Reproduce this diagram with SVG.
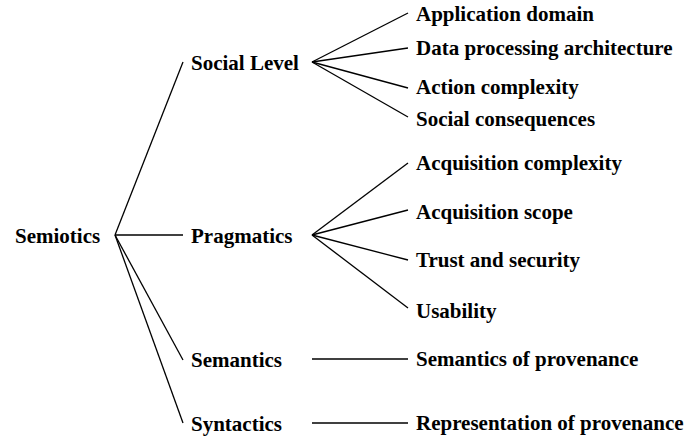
<svg xmlns="http://www.w3.org/2000/svg" width="692" height="436" viewBox="0 0 692 436">
<style>
text{font-family:"Liberation Serif","Times New Roman",serif;font-weight:bold;font-size:21px;fill:#000}
.c line{stroke:#000;stroke-width:1.3}
</style>
<rect width="692" height="436" fill="#fff"/>
<g id="connectors" class="c">
<line x1="115" y1="235" x2="183" y2="62"/>
<line x1="115" y1="235" x2="183" y2="235"/>
<line x1="115" y1="235" x2="183" y2="360"/>
<line x1="115" y1="235" x2="183" y2="423"/>
<line x1="312" y1="62" x2="408" y2="13"/>
<line x1="312" y1="62" x2="408" y2="48"/>
<line x1="312" y1="62" x2="408" y2="88"/>
<line x1="312" y1="62" x2="408" y2="117"/>
<line x1="312" y1="235" x2="408" y2="163"/>
<line x1="312" y1="235" x2="408" y2="210"/>
<line x1="312" y1="235" x2="408" y2="260"/>
<line x1="312" y1="235" x2="408" y2="308"/>
<line x1="312" y1="359" x2="408" y2="359"/>
<line x1="312" y1="423" x2="408" y2="423"/>
</g>
<g id="semiotics"><text x="15" y="243">Semiotics</text></g>
<g id="social-level"><text x="191" y="70">Social Level</text></g>
<g id="pragmatics"><text x="191" y="243">Pragmatics</text></g>
<g id="semantics"><text x="191" y="367">Semantics</text></g>
<g id="syntactics"><text x="191" y="431">Syntactics</text></g>
<g id="application-domain"><text x="416" y="21">Application domain</text></g>
<g id="data-processing"><text x="416" y="55">Data processing architecture</text></g>
<g id="action-complexity"><text x="416" y="94">Action complexity</text></g>
<g id="social-consequences"><text x="416" y="126">Social consequences</text></g>
<g id="acquisition-complexity"><text x="416" y="170">Acquisition complexity</text></g>
<g id="acquisition-scope"><text x="416" y="219">Acquisition scope</text></g>
<g id="trust-security"><text x="416" y="267">Trust and security</text></g>
<g id="usability"><text x="416" y="318">Usability</text></g>
<g id="semantics-provenance"><text x="416" y="366">Semantics of provenance</text></g>
<g id="representation-provenance"><text x="416" y="430">Representation of provenance</text></g>
</svg>
